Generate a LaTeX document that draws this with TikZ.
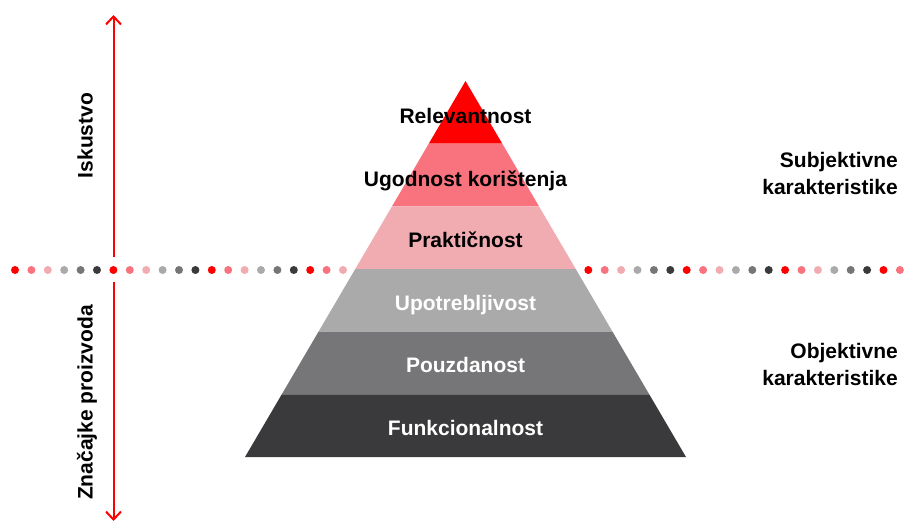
\documentclass[tikz,border=0pt]{standalone}
\usepackage{fontspec}
\setmainfont{Liberation Sans}
\usetikzlibrary{arrows.meta}
\definecolor{cA}{HTML}{FF0000}
\definecolor{cB}{HTML}{F8737E}
\definecolor{cC}{HTML}{F0ACB1}
\definecolor{cD}{HTML}{AAAAAA}
\definecolor{cE}{HTML}{767678}
\definecolor{cF}{HTML}{3A3A3C}
\begin{document}
\begin{tikzpicture}[x=1pt,y=-1pt,
  lbl/.style={font=\fontsize{21}{27}\selectfont\bfseries, inner sep=0pt},
  axis/.style={draw=cA, line width=2pt, -{Straight Barb[length=8pt,width=15pt]}}]
\useasboundingbox (0,0) rectangle (909,520);
% pyramid bands
\foreach \k/\c in {0/cA,1/cB,2/cC,3/cD,4/cE,5/cF}{
  \pgfmathsetmacro\ya{81+62.6667*\k}
  \pgfmathsetmacro\yb{81+62.6667*(\k+1)}
  \pgfmathsetmacro\ha{36.75*\k}
  \pgfmathsetmacro\hb{36.75*(\k+1)}
  \fill[\c] (465.5-\ha,\ya) -- (465.5+\ha,\ya) -- (465.5+\hb,\yb) -- (465.5-\hb,\yb) -- cycle;
}
% band labels
\node[lbl, anchor=base] (l1) at (465.5,123) {Relevantnost};
\node[lbl, anchor=base] (l2) at (465.5,186) {Ugodnost korištenja};
\node[lbl, anchor=base] (l3) at (465.5,247.5) {Praktičnost};
\node[lbl, anchor=base, text=white] (l4) at (465.5,310) {Upotrebljivost};
\node[lbl, anchor=base, text=white] (l5) at (465.5,372) {Pouzdanost};
\node[lbl, anchor=base, text=white] (l6) at (465.5,435) {Funkcionalnost};
% dotted rows
\foreach \i in {0,...,20}{
  \pgfmathtruncatemacro\m{mod(\i,6)}
  \ifcase\m \def\cc{cA}\or \def\cc{cB}\or \def\cc{cC}\or \def\cc{cD}\or \def\cc{cE}\or \def\cc{cF}\fi
  \fill[\cc] (15+16.4*\i,270) circle[radius=4];
}
\foreach \i in {0,...,19}{
  \pgfmathtruncatemacro\m{mod(\i,6)}
  \ifcase\m \def\cc{cA}\or \def\cc{cB}\or \def\cc{cC}\or \def\cc{cD}\or \def\cc{cE}\or \def\cc{cF}\fi
  \fill[\cc] (588.3+16.4*\i,270) circle[radius=4];
}
% vertical axis
\coordinate (ua) at (113.5,257);
\coordinate (ub) at (113.5,15);
\coordinate (da) at (113.5,282);
\coordinate (db) at (113.5,521);
\draw[axis] (ua) -- (ub);
\draw[axis] (da) -- (db);
% axis labels
\node[lbl, anchor=base, rotate=90] (isk) at (92.5,135.5) {Iskustvo};
\node[lbl, anchor=base, rotate=90] (zn) at (92.5,402.5) {Značajke proizvoda};
% right labels
\node[lbl, anchor=base east] (s1) at (898,167) {Subjektivne};
\node[lbl, anchor=base east] (s2) at (898,194) {karakteristike};
\node[lbl, anchor=base east] (o1) at (898,358) {Objektivne};
\node[lbl, anchor=base east] (o2) at (898,385) {karakteristike};
\end{tikzpicture}
\end{document}
